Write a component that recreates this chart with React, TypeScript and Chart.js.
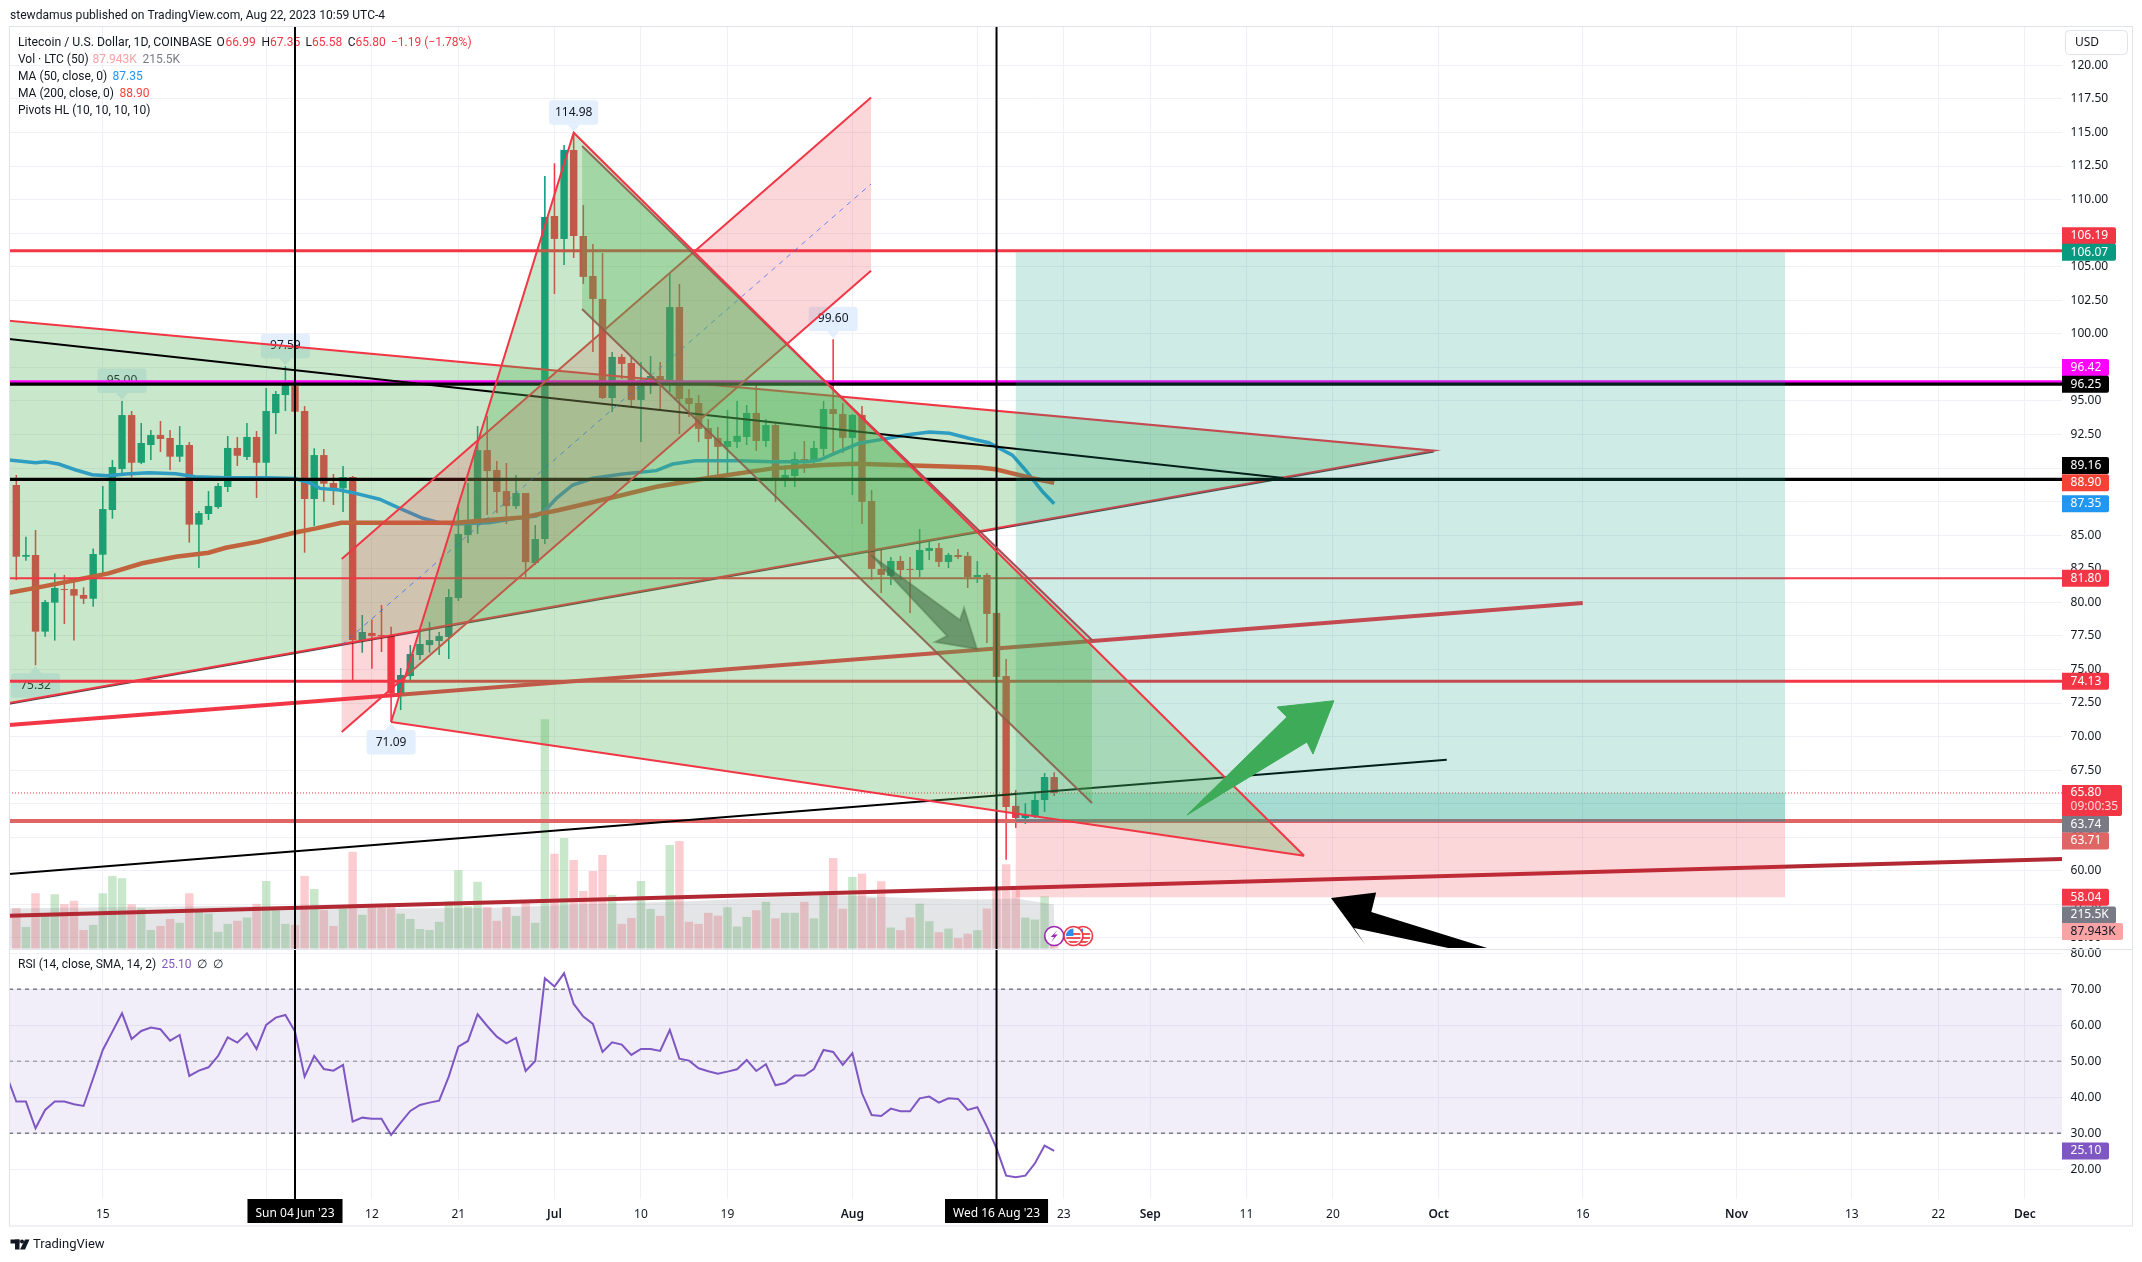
import React, { useEffect, useRef } from "react";
import { Chart, registerables } from "chart.js";

Chart.register(...registerables);

type Pt = [number, number];

// ---- candles: x is the bar number counted from 06 May 2023
const opens = [88.74,83.40,83.53,77.82,79.98,80.99,80.99,80.55,80.27,83.55,86.88,89.93,93.95,90.40,91.72,92.46,92.24,90.85,91.72,85.79,86.58,87.10,88.59,91.50,90.83,92.32,90.40,94.10,95.44,96.11,
94.25,87.70,90.97,88.89,88.49,89.33,77.19,77.72,77.57,77.49,73.22,74.51,76.08,76.82,77.12,77.42,80.32,85.01,85.98,91.34,89.86,88.29,87.17,88.14,82.93,
84.72,108.78,107.07,113.70,107.29,104.31,102.60,95.22,98.28,97.83,95.08,96.57,96.86,96.57,102.00,95.22,94.85,92.99,92.25,91.58,91.95,92.32,94.11,92.02,93.21,
89.12,89.41,90.68,90.53,91.43,94.40,94.03,92.25,93.96,87.55,82.49,81.97,83.08,82.49,82.41,83.83,84.05,83.01,83.53,83.46,81.89,82.04,79.21,74.52,64.84,63.94,64.09,65.28,66.99];
const closes = [83.40,83.53,77.82,80.03,81.07,80.92,80.50,80.27,83.60,86.95,90.08,93.95,90.40,91.87,92.46,92.17,90.85,91.72,85.79,86.65,87.18,88.67,91.50,90.92,92.32,90.40,94.25,95.52,96.19,94.20,
87.70,90.97,88.84,88.49,89.33,77.19,77.79,77.49,77.49,73.22,74.59,76.15,76.90,77.19,77.49,80.40,85.09,86.01,91.34,89.78,88.22,87.17,88.14,83.00,84.72,
108.71,107.07,113.70,107.29,104.24,102.60,95.22,98.28,97.76,95.08,96.57,96.86,96.32,102.00,95.15,94.78,92.92,92.17,91.58,92.02,92.40,94.11,92.02,93.21,89.27,
89.49,90.68,90.56,91.50,94.40,94.03,92.25,93.96,87.48,82.49,82.04,83.08,82.41,82.41,83.90,84.05,83.01,83.53,83.38,81.89,82.04,79.14,74.45,64.76,63.94,64.17,65.28,66.99,65.80];
const highs = [89.49,84.89,85.39,80.18,82.16,82.04,81.54,81.12,84.02,88.67,90.60,95.00,94.25,93.36,92.84,93.51,92.84,93.13,91.94,86.80,88.29,88.89,92.39,92.32,93.36,92.76,95.96,95.74,97.59,96.30,
94.62,91.47,91.42,89.56,90.15,89.41,79.06,78.73,79.80,78.19,75.11,76.82,77.79,78.54,77.79,80.99,87.13,88.89,93.13,93.88,90.53,90.38,89.48,88.14,85.76,
111.76,112.70,114.07,114.98,109.60,106.69,106.02,98.65,98.50,98.28,97.91,98.35,97.91,104.46,103.72,95.89,95.45,93.66,93.06,94.33,95.00,94.70,96.42,93.66,93.44,
90.23,91.20,92.02,92.02,95.00,99.60,94.85,94.03,94.63,88.37,83.90,83.38,83.46,83.38,85.47,84.50,84.42,83.68,83.98,83.75,83.08,82.19,79.21,75.79,66.03,65.04,65.88,67.29,67.35];
const lows = [81.66,83.10,75.32,77.44,77.15,78.39,77.15,79.88,79.68,82.16,86.23,89.61,89.31,90.30,90.60,91.20,89.86,90.45,84.45,82.56,86.13,86.98,88.22,90.16,90.60,87.77,89.24,92.54,94.25,94.20,
83.70,85.69,87.50,87.25,86.73,74.22,76.25,75.06,76.30,71.09,71.98,74.22,75.71,76.25,76.08,75.78,80.10,84.42,85.09,86.50,86.65,85.83,86.95,81.89,82.78,
84.35,102.97,105.13,105.65,103.72,98.65,95.15,94.18,96.64,94.63,91.95,95.52,94.41,95.67,92.54,93.81,91.95,89.34,89.42,89.37,91.50,91.72,91.28,91.58,87.48,
88.59,88.59,89.64,90.23,90.90,91.05,91.13,88.00,85.84,81.67,80.70,81.30,81.67,79.21,81.89,83.16,82.64,82.56,83.23,81.07,81.45,76.98,74.45,60.82,63.20,63.50,63.94,64.39,65.58];
// thousands of LTC
const volumes = [198,106,271,168,266,217,234,91,116,271,356,345,217,198,91,111,145,126,271,180,171,82,121,136,152,219,331,188,121,116,356,292,189,111,198,474,165,212,214,214,171,145,96,91,131,232,384,207,327,204,136,204,160,230,126,1124,464,542,434,282,380,459,263,121,150,331,194,160,508,527,131,121,
175,161,202,108,155,188,229,148,175,175,229,148,262,444,195,
351,367,247,330,103,90,152,220,134,80,98,51,73,90,196,289,413,305,152,142,256,88];
const volumeMa: Pt[] = [[-0.76,196],[10,203],[20,208],[30,206],[40,196],[50,200],[60,218],[70,232],[78,250],[85,262],[93,248],[100,240],[104,245],[108,215.5]];
const ma50: Pt[] = [[-0.76,90.6],[2,90.4],[3,90.48],[4.4,90.3],[6.2,89.86],[7.9,89.51],[9.6,89.43],[11.4,89.56],[13.8,89.66],[16.6,89.58],[18.6,89.36],[21.8,89.28],[26,89.28],[29,89.22],[30.5,88.91],[31.6,88.49],[33.65,88.37],[35,88.17],[37.8,87.68],[39.9,87.0],[42.3,86.26],[44,85.93],[45.8,85.83],[49.2,85.93],[52,86.26],[54.1,86.43],[55.1,86.88],[56.2,87.75],[57.9,88.74],[60,89.24],[63.1,89.56],[66.6,89.81],[68.3,90.3],[70.7,90.55],[75.2,90.55],[78.7,90.48],[82.2,90.48],[83.55,90.6],[85.6,91.22],[87.7,91.85],[90.1,92.14],[92.6,92.46],[95,92.69],[97.1,92.59],[99.1,92.22],[101.2,91.89],[103.65,90.97],[105,89.86],[106.8,88.24],[108,87.35]];
const ma200: Pt[] = [[-0.76,80.72],[2.7,81.17],[6.2,81.66],[9.6,82.16],[13.1,82.91],[16.6,83.4],[20,83.7],[21.8,84.07],[25.2,84.52],[29,85.2],[31.2,85.51],[33.8,85.93],[42.3,85.93],[45.8,85.93],[49.2,86.13],[52.7,86.33],[56.5,86.88],[61.7,87.75],[66.6,88.61],[71.8,89.24],[78.7,89.98],[83.9,90.23],[87.4,90.33],[93.3,90.2],[100.2,90.05],[101.9,89.91],[103.65,89.61],[105.7,89.24],[108,88.9]];
const rsiValues = [46,38.8,38.8,31.39,36.48,38.8,38.8,38.06,37.59,45.28,53.15,58.24,63.33,56.2,58.43,59.35,58.89,55.74,57.31,45.93,47.41,48.33,51.48,56.67,55.19,57.78,53.43,60.09,62.13,62.87,58.24,45.74,51.48,47.87,47.41,48.98,33.24,34.35,34.07,34.07,29.54,32.96,36.2,37.87,38.52,39.07,45.74,54.07,55.65,63.06,59.81,56.85,55,56.48,47.31,50.09,73.06,70.74,74.44,65.93,62.41,60.37,52.59,55.28,54.63,51.76,53.43,53.43,52.87,58.7,50.74,50.19,48.06,47.22,46.57,47.13,47.78,50.37,47.31,49.17,43.33,43.98,46.02,46.02,47.87,53.15,52.59,48.98,52.22,41.11,35.09,34.81,36.85,36.11,36.11,39.72,40.19,38.52,39.72,39.54,36.48,37.22,31.85,25.83,18.24,17.78,18.24,21.67,26.57,25.1];

// ---- axes
const xFrom = -0.76;
const xTo = 212.87;
const xTickPositions = [9,26,37,46,56,65,74,87,100,109,118,128,137,148,163,179,191,200,209];
const xTickLabels = ["15","Jun","12","21","Jul","10","19","Aug","14","23","Sep","11","20","Oct","16","Nov","13","22","Dec"];
const monthLabels = ["Jun","Jul","Aug","Sep","Oct","Nov","Dec"];
const priceTicks = [55,57.5,60,62.5,65,67.5,70,72.5,75,77.5,80,82.5,85,87.5,90,92.5,95,97.5,100,102.5,105,107.5,110,112.5,115,117.5,120];
const rsiTicks = [20,30,40,50,60,70,80];
const priceFrom = 54.18;
const priceTo = 122.93;
const rsiFrom = 11.75;
const rsiTo = 81.19;
const volFrom = -1227;
const volTo = 4520;

// ---- drawings, as [bar number, price]
const wedge: Pt[] = [[-0.76,100.98],[147.5,91.3],[-0.76,72.5]];
const triangle: Pt[] = [[39,71.09],[58,114.98],[134,61.13]];
const upChannelTop: Pt[] = [[33.86,83.23],[88.94,117.6]];
const upChannelMid: Pt[] = [[33.86,76.82],[88.94,111.16]];
const upChannelLow: Pt[] = [[33.86,70.34],[88.94,104.7]];
const downChannelTop: Pt[] = [[58.87,113.99],[111.93,77.19]];
const downChannelLow: Pt[] = [[58.87,101.85],[111.93,65.06]];
const risingRedLine: Pt[] = [[-0.76,70.86],[163,79.96]];
const risingBlackLine: Pt[] = [[-0.76,59.77],[148.85,68.28]];
const fallingBlackLine: Pt[] = [[-0.76,99.61],[131.85,89.26]];
const supportLine: Pt[] = [[-0.76,56.66],[212.87,60.88]];
const greenArrow: Pt[] = [[121.82,64.16],[132.22,71.46],[131.18,72.2],[137.1,72.67],[134.93,68.7],[134.3,69.6]];
const darkArrow: Pt[] = [[88.94,83.53],[98.2,78.69],[98.62,79.58],[99.96,76.53],[95.6,77.05],[96.85,77.5]];
const blackArrow: Pt[] = [[136.8,57.98],[141.5,58.39],[141,56.93],[153.05,54.26],[149,54.26],[139.2,55.75],[140.4,54.48]];
const longBoxBars = [104,184.05];
const longBoxTarget = 106.07;
const longBoxEntry = 63.74;
const longBoxStop = 58.04;
const lastClose = 65.8;
const crosshairBars = [29,102];
const crosshairLabels = ["Sun 04 Jun '23","Wed 16 Aug '23"];
const thickLevels = [106.19,96.42,96.25,89.16,74.13];
const thickLevelColors = ["#f23645","#ff00ff","#000000","#000000","#f23645"];
const thickLevelWidths = [3,3.3,3.3,3.3,3];
const thinLevel = 81.8;
const softLevel = 63.71;
const rsiBandHigh = 70;
const rsiBandMid = 50;
const rsiBandLow = 30;
const pivotBars = [11,28,2,39,58,85];
const pivotPrices = [95.00,97.59,75.32,71.09,114.98,99.60];
const pivotIsHigh = [true,true,false,false,true,true];
const eventBars = [108,110,111];

// ---- price-scale tags
const tagValues = [106.19,106.07,96.42,96.25,89.16,88.90,87.35,81.80,74.13,63.74,63.71,58.04];
const tagColors = ["#f23645","#089981","#ff00ff","#000000","#000000","#f44336","#2196f3","#f23645","#f23645","#787b86","#e06666","#f23645"];
const tagDodges = [-15,0,-14.5,0,-14,0,0,0,0,3.5,20,0];

const FONT = '"Noto Sans", sans-serif';
const LEGEND_FONT = '12px Roboto, sans-serif';
const RED = "#f23645";
const TEAL = "#089981";
const OVERLAY_GREEN = "rgba(76,175,80,0.3)";

const rows = (p: Pt[]) => p.map(([x, y]) => ({ x, y }));

function buildDatasets() {
  const out: any[] = [];
  const line = (pts: Pt[], color: string, width: number, axis = "y", extra: any = {}) =>
    out.push({ type: "line", data: rows(pts), borderColor: color, borderWidth: width, yAxisID: axis, xAxisID: "x", pointRadius: 0, tension: 0, fill: false, borderCapStyle: "butt", ...extra });
  const shape = (pts: Pt[], color: string, axis = "y", stroke = "transparent", width = 0) =>
    line([...pts, pts[0]], stroke, width, axis, { polygonFill: color });

  // volume
  out.push({ type: "bar", yAxisID: "yVol", xAxisID: "x", grouped: false, barPercentage: 0.88, categoryPercentage: 1,
    data: volumes.map((v, i) => ({ x: i, y: v })),
    backgroundColor: volumes.map((_, i) => (closes[i] >= opens[i] ? "rgba(76,175,80,0.3)" : "rgba(242,54,69,0.25)")) });
  line(volumeMa, "transparent", 0, "yVol", { fill: "origin", backgroundColor: "rgba(120,123,134,0.2)" });

  // candles
  const candleColors = opens.map((o, i) => (closes[i] >= o ? TEAL : RED));
  out.push({ type: "bar", yAxisID: "y", xAxisID: "x", grouped: false, barPercentage: 0.16, categoryPercentage: 1,
    data: opens.map((_, i) => ({ x: i, y: [lows[i], highs[i]] })), backgroundColor: candleColors });
  out.push({ type: "bar", yAxisID: "y", xAxisID: "x", grouped: false, barPercentage: 0.77, categoryPercentage: 1,
    data: opens.map((o, i) => ({ x: i, y: [o, closes[i]] })), backgroundColor: candleColors, minBarLength: 1 });

  // moving averages and RSI
  line(ma50, "#2196f3", 3.5);
  line(ma200, "#f44336", 4.5);
  pivotBars.forEach((b, i) => line([[b, pivotPrices[i]]], "transparent", 0, "y", { pivotHigh: pivotIsHigh[i], showLine: false }));

  const rsiPts: Pt[] = rsiValues.map((v, i) => [i - 1, v]);
  shape([[xFrom, rsiBandHigh], [xTo, rsiBandHigh], [xTo, rsiBandLow], [xFrom, rsiBandLow]], "rgba(126,87,194,0.1)", "yRsi");
  [rsiBandHigh, rsiBandLow].forEach((v) => line([[xFrom, v], [xTo, v]], "#787b86", 1.5, "yRsi", { borderDash: [4, 4] }));
  line([[xFrom, rsiBandMid], [xTo, rsiBandMid]], "rgba(120,123,134,0.6)", 1.5, "yRsi", { borderDash: [4, 4] });
  line(rsiPts, "#7e57c2", 2, "yRsi");

  // wedge
  shape(wedge, OVERLAY_GREEN);
  line([[wedge[2][0], wedge[2][1] - 0.08], [wedge[1][0], wedge[1][1] - 0.08]], "rgba(0,0,0,0.75)", 1.5);
  line([wedge[0], wedge[1], wedge[2]], RED, 2);

  // levels and lines
  line([[xFrom, lastClose], [xTo, lastClose]], RED, 1, "y", { borderDash: [1, 2] });
  thickLevels.forEach((v, i) => line([[xFrom, v], [xTo, v]], thickLevelColors[i], thickLevelWidths[i]));
  line([[xFrom, thinLevel], [xTo, thinLevel]], RED, 2);
  line([[xFrom, softLevel], [xTo, softLevel]], "#e06666", 4);
  line(risingRedLine, RED, 4);
  line(risingBlackLine, "#000000", 2);
  line(fallingBlackLine, "#000000", 2);
  line(supportLine, "#b22833", 4);
  crosshairBars.forEach((b) => {
    line([[b, priceFrom], [b, priceTo]], "#000000", 2);
    line([[b, rsiFrom], [b, rsiTo]], "#000000", 2, "yRsi");
  });

  // long position box
  const [boxA, boxB] = longBoxBars;
  shape([[boxA, longBoxTarget], [boxB, longBoxTarget], [boxB, longBoxEntry], [boxA, longBoxEntry]], "rgba(8,153,129,0.2)");
  shape([[boxA, lastClose], [boxB, lastClose], [boxB, longBoxEntry], [boxA, longBoxEntry]], "rgba(8,153,129,0.2)");
  shape([[boxA, longBoxEntry], [boxB, longBoxEntry], [boxB, longBoxStop], [boxA, longBoxStop]], "rgba(242,54,69,0.2)");
  line([[boxA, longBoxEntry], [boxB, longBoxEntry]], "#787b86", 2);

  // rising channel
  shape([upChannelTop[0], upChannelTop[1], upChannelLow[1], upChannelLow[0]], "rgba(242,54,69,0.2)");
  line(upChannelTop, RED, 2);
  line(upChannelLow, RED, 2);
  line(upChannelMid, "rgba(41,98,255,0.7)", 1, "y", { borderDash: [5, 5] });

  // falling channel
  shape([downChannelTop[0], downChannelTop[1], downChannelLow[1], downChannelLow[0]], OVERLAY_GREEN);
  line(downChannelTop, "rgba(165,60,75,0.9)", 2);
  line(downChannelLow, "rgba(165,60,75,0.9)", 2);

  // triangle
  shape(triangle, OVERLAY_GREEN);
  line(triangle, RED, 2);
  line([triangle[2], triangle[0]], RED, 2);

  // arrows
  shape(darkArrow, "rgba(70,110,70,0.6)", "y", "rgba(70,110,70,0.4)", 2);
  shape(greenArrow, "#3dab58", "y", "#3dab58", 1);
  shape(blackArrow, "#000000");

  out.forEach((d, i) => { d.order = 1000 - i; });
  return out;
}

function text(ctx: any, s: string, x: number, y: number, color: string, font = LEGEND_FONT, align = "left") {
  ctx.font = font;
  ctx.fillStyle = color;
  ctx.textAlign = align;
  ctx.textBaseline = "middle";
  ctx.fillText(s, x, y);
}

function roundBox(ctx: any, x: number, y: number, w: number, h: number, r: any, fill?: string, stroke?: string) {
  ctx.beginPath();
  ctx.roundRect(x, y, w, h, r);
  if (fill) { ctx.fillStyle = fill; ctx.fill(); }
  if (stroke) { ctx.strokeStyle = stroke; ctx.lineWidth = 1; ctx.stroke(); }
}

const drawPlugin = {
  id: "tvDrawings",
  beforeDraw(chart: any) {
    const { ctx, width, height } = chart;
    ctx.save();
    ctx.fillStyle = "#ffffff";
    ctx.fillRect(0, 0, width, height);
    ctx.restore();
  },
  beforeDatasetsDraw(chart: any) {
    const { ctx } = chart;
    ctx.save();
    const ink = "#131722";
    const soft = "#f23645";
    text(ctx, "Litecoin / U.S. Dollar, 1D, COINBASE", 18, 43, ink, "12.25px Roboto, sans-serif");
    [["O", 216.5, "66.99", 225.5], ["H", 261.6, "67.35", 270], ["L", 305.4, "65.58", 312], ["C", 347.7, "65.80", 355.5]].forEach((r: any) => {
      text(ctx, r[0], r[1], 43, ink);
      text(ctx, r[2], r[3], 43, soft);
    });
    text(ctx, "\u22121.19 (\u22121.78%)", 391, 43, soft);
    text(ctx, "Vol \u00b7 LTC (50)", 18, 60, ink);
    text(ctx, "87.943K", 92.4, 60, "#f9a3a5");
    text(ctx, "215.5K", 142.4, 60, "#787b86");
    text(ctx, "MA (50, close, 0)", 18, 77, ink);
    text(ctx, "87.35", 112.5, 77, "#2196f3");
    text(ctx, "MA (200, close, 0)", 18, 94, ink);
    text(ctx, "88.90", 119.4, 94, "#f44336");
    text(ctx, "Pivots HL (10, 10, 10, 10)", 18, 110.5, ink);
    text(ctx, "RSI (14, close, SMA, 14, 2)", 18, 965, ink);
    text(ctx, "25.10", 161.4, 965, "#7e57c2");
    text(ctx, "\u2205", 197, 965, "#131722");
    text(ctx, "\u2205", 213, 965, "#131722");
    ctx.restore();
  },
  beforeDatasetDraw(chart: any, args: any) {
    const ds = chart.data.datasets[args.index];
    if (!ds.polygonFill) return;
    const { ctx, scales } = chart;
    const yScale = scales[ds.yAxisID];
    const pts = args.meta.data;
    ctx.save();
    ctx.beginPath();
    ctx.rect(scales.x.left, yScale.top, scales.x.width, yScale.height);
    ctx.clip();
    ctx.beginPath();
    pts.forEach((p: any, i: number) => (i ? ctx.lineTo(p.x, p.y) : ctx.moveTo(p.x, p.y)));
    ctx.closePath();
    ctx.fillStyle = ds.polygonFill;
    ctx.fill();
    ctx.restore();
  },
  afterDatasetDraw(chart: any, args: any) {
    const ds = chart.data.datasets[args.index];
    if (ds.pivotHigh === undefined) return;
    const { ctx } = chart;
    const p = args.meta.data[0];
    const up = ds.pivotHigh;
    const w = 49, h = 24.5, gap = 8;
    ctx.save();
    const top = up ? p.y - gap - h : p.y + gap;
    roundBox(ctx, p.x - w / 2, top, w, h, 3, "#e3effd");
    ctx.beginPath();
    ctx.moveTo(p.x - 6, up ? p.y - gap : p.y + gap);
    ctx.lineTo(p.x, up ? p.y - 1 : p.y + 1);
    ctx.lineTo(p.x + 6, up ? p.y - gap : p.y + gap);
    ctx.closePath();
    ctx.fillStyle = "#e3effd";
    ctx.fill();
    text(ctx, ds.data[0].y.toFixed(2), p.x, top + h / 2, "#131722", `12px ${FONT}`, "center");
    ctx.restore();
  },
  afterDraw(chart: any) {
    const { ctx, scales, chartArea } = chart;
    const { x, y, yRsi, yVol } = scales;
    ctx.save();
    const left = chartArea.left, right = chartArea.right;
    const outerR = right + 70;
    // frame
    ctx.strokeStyle = "#e0e3eb";
    ctx.lineWidth = 1;
    ctx.strokeRect(left + 0.5, 26.5, outerR - left, 1199.5);
    ctx.beginPath();
    ctx.moveTo(left, y.bottom + 0.5);
    ctx.lineTo(outerR, y.bottom + 0.5);
    ctx.stroke();

    // USD button
    roundBox(ctx, 2065.5, 30.5, 62, 24, 4, "#ffffff", "#e0e3eb");
    text(ctx, "USD", 2075, 43, "#131722", `12px ${FONT}`);

    // price tags
    const tag = (label: string, cy: number, color: string, ink = "#ffffff") => {
      ctx.font = `12px ${FONT}`;
      const w = Math.round(ctx.measureText(label).width) + 16;
      roundBox(ctx, right, cy - 8.5, w, 17, [0, 2, 2, 0], color);
      text(ctx, label, right + 8.6, cy, ink, `12px ${FONT}`);
    };
    tagValues.forEach((v, i) => tag(v.toFixed(2), y.getPixelForValue(v) + tagDodges[i], tagColors[i]));
    const closeY = y.getPixelForValue(lastClose);
    roundBox(ctx, right, closeY - 8, 60, 31, [0, 2, 2, 0], RED);
    text(ctx, lastClose.toFixed(2), right + 8.6, closeY, "#ffffff", `12px ${FONT}`);
    text(ctx, "09:00:35", right + 8.6, closeY + 14, "rgba(255,255,255,0.8)", `12px ${FONT}`);
    tag("215.5K", yVol.getPixelForValue(215.5) + 10.5, "#787b86");
    tag("87.943K", yVol.getPixelForValue(87.943) + 1, "#f9a3a5", "#131722");
    tag("25.10", yRsi.getPixelForValue(25.1), "#7e57c2");

    // crosshair date labels
    crosshairBars.forEach((b, i) => {
      const cx = x.getPixelForValue(b);
      ctx.font = `12px ${FONT}`;
      const w = ctx.measureText(crosshairLabels[i]).width + 16;
      ctx.fillStyle = "#000000";
      ctx.fillRect(cx - w / 2, chartArea.bottom, w, 24);
      text(ctx, crosshairLabels[i], cx, chartArea.bottom + 14.5, "#ffffff", `12px ${FONT}`, "center");
    });

    // event markers
    const evY = y.bottom - 13;
    eventBars.slice().reverse().forEach((b) => {
      const ex = x.getPixelForValue(b);
      const isFlash = b === eventBars[0];
      ctx.save();
      ctx.beginPath();
      ctx.arc(ex, evY, 9.5, 0, Math.PI * 2);
      ctx.fillStyle = "#ffffff";
      ctx.fill();
      ctx.lineWidth = 1.6;
      ctx.strokeStyle = isFlash ? "#9c27b0" : RED;
      ctx.stroke();
      if (isFlash) {
        ctx.beginPath();
        ctx.moveTo(ex + 3.5, evY - 6);
        ctx.lineTo(ex - 3.5, evY + 1);
        ctx.lineTo(ex, evY + 1);
        ctx.lineTo(ex - 3, evY + 6);
        ctx.lineTo(ex + 3.5, evY - 1.5);
        ctx.lineTo(ex, evY - 1.5);
        ctx.closePath();
        ctx.fillStyle = "#9c27b0";
        ctx.fill();
      } else {
        ctx.beginPath();
        ctx.arc(ex, evY, 7.5, 0, Math.PI * 2);
        ctx.clip();
        ctx.fillStyle = "#ffffff";
        ctx.fillRect(ex - 8, evY - 8, 16, 16);
        ctx.fillStyle = "#f0525c";
        [-3, 1, 5].forEach((o) => ctx.fillRect(ex - 8, evY + o, 16, 2));
        ctx.fillStyle = "#2f8cf0";
        ctx.fillRect(ex - 8, evY - 8, 8, 8);
      }
      ctx.restore();
    });

    // title and footer
    text(ctx, "stewdamus published on TradingView.com, Aug 22, 2023 10:59 UTC-4", 10, 15.5, "#131722", "12.1px Roboto, sans-serif");
    ctx.fillStyle = "#131722";
    ctx.fillRect(10.5, 1239.5, 9, 4);
    ctx.fillRect(15, 1239.5, 4.5, 10);
    ctx.beginPath();
    ctx.arc(22, 1241.5, 2, 0, Math.PI * 2);
    ctx.fill();
    ctx.beginPath();
    ctx.moveTo(25, 1239.5);
    ctx.lineTo(29.5, 1239.5);
    ctx.lineTo(25, 1249.5);
    ctx.lineTo(20, 1249.5);
    ctx.closePath();
    ctx.fill();
    text(ctx, "TradingView", 33, 1244.7, "#131722", "13px Roboto, sans-serif");
    ctx.restore();
  },
};

export default function App() {
  const ref = useRef<HTMLCanvasElement | null>(null);
  useEffect(() => {
    const canvas = ref.current;
    if (!canvas) return;
    Chart.defaults.font.family = FONT;
    Chart.defaults.font.size = 12;
    const gridColor = "#eff1f6";
    const yAxis = (ticks: number[], from: number, to: number, weight: number) => ({
      type: "linear",
      position: "right",
      stack: "panes",
      stackWeight: weight,
      min: from,
      max: to,
      grid: { color: gridColor, drawTicks: false, lineWidth: 1 },
      border: { display: false },
      afterBuildTicks: (s: any) => { s.ticks = ticks.map((value) => ({ value })); },
      afterFit: (s: any) => { s.width = 70; },
      ticks: { color: "#131722", padding: 8.6, autoSkip: false, callback: (v: number) => Number(v).toFixed(2), font: { size: 12, family: FONT } },
    });
    const chart = new Chart(canvas, {
      data: { datasets: buildDatasets() },
      options: {
        animation: false,
        responsive: false,
        devicePixelRatio: 1,
        events: [],
        layout: { padding: { left: 9, top: 26, right: 10, bottom: 36 } },
        plugins: { legend: { display: false }, tooltip: { enabled: false } },
        scales: {
          x: {
            type: "linear",
            offset: false,
            min: xFrom,
            max: xTo,
            grid: { color: gridColor, drawTicks: false, offset: false },
            border: { display: false },
            afterBuildTicks: (s: any) => { s.ticks = xTickPositions.map((value) => ({ value })); },
            afterFit: (s: any) => { s.height = 27; },
            ticks: {
              color: "#131722",
              padding: 8,
              autoSkip: false,
              maxRotation: 0,
              minRotation: 0,
              callback: (v: number) => xTickLabels[xTickPositions.indexOf(v)],
              font: (c: any) => ({ size: 12, family: FONT, weight: c.tick && monthLabels.includes(c.tick.label) ? "600" : "400" }),
            },
          },
          y: yAxis(priceTicks, priceFrom, priceTo, 923),
          yRsi: yAxis(rsiTicks, rsiFrom, rsiTo, 250),
          yVol: { type: "linear", display: false, position: "right", min: volFrom, max: volTo },
        },
      } as any,
      plugins: [drawPlugin],
    } as any);
    return () => chart.destroy();
  }, []);
  return <canvas ref={ref} width={2142} height={1262} style={{ position: "fixed", left: 0, top: 0, width: 2142, height: 1262, display: "block" }} />;
}
